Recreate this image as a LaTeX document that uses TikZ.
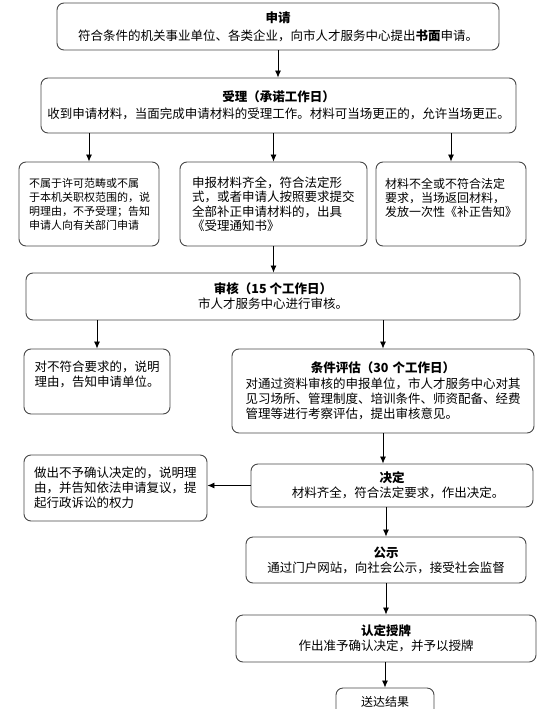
\documentclass[tikz,border=0pt]{standalone}
\usepackage{fontspec}
\setmainfont{Noto Sans CJK SC}
\usetikzlibrary{arrows.meta}
\begin{document}
\begin{tikzpicture}[x=1pt,y=-1pt,
  box/.style={draw=black!72, line width=0.9pt, rounded corners=7pt, inner ysep=2pt,
              font=\fontsize{12.5}{15}\selectfont},
  cbox/.style={box, align=center},
  lbox/.style={box, align=left},
  arr/.style={-{Latex[length=7pt,width=6pt]}, line width=0.8pt, black}]
\useasboundingbox (0,0) rectangle (554,709);
\begin{scope}
\clip (0,0) rectangle (554,709);
\node[cbox, minimum width=442, minimum height=47] (apply) at (278,26.5)
  {\textbf{申请}\\[3pt]符合条件的机关事业单位、各类企业，向市人才服务中心提出\textbf{书面}申请。};
\node[cbox, minimum width=475, minimum height=55] (accept) at (278.5,105.5)
  {\textbf{受理（承诺工作日）}\\[2pt]收到申请材料，当面完成申请材料的受理工作。材料可当场更正的，允许当场更正。};
\node[lbox, font=\fontsize{11}{14}\selectfont, text width=120, inner xsep=10, minimum height=84] (left3) at (89,204)
  {不属于许可范畴或不属\\于本机关职权范围的，说\\明理由，不予受理；告知\\申请人向有关部门申请};
\node[lbox, font=\fontsize{12.5}{14.5}\selectfont, text width=163, inner xsep=12, minimum height=84] (mid3) at (273.5,204)
  {申报材料齐全，符合法定形\\式，或者申请人按照要求提交\\全部补正申请材料的，出具\\《受理通知书》};
\node[lbox, font=\fontsize{12}{14}\selectfont, text width=132, inner xsep=9, minimum height=84] (right3) at (451,204)
  {材料不全或不符合法定\\要求，当场返回材料，\\发放一次性《补正告知》\\\mbox{}};
\node[cbox, minimum width=494, minimum height=47] (review) at (273,296.5)
  {\textbf{审核（15 个工作日）}\\市人才服务中心进行审核。};
\node[lbox, text width=125, inner xsep=10.5, minimum height=65, font=\fontsize{12.5}{15.5}\selectfont] (reject1) at (97,381.5)
  {对不符合要求的，说明\\理由，告知申请单位。\\\mbox{}};
\node[lbox, text width=275, inner xsep=13.5, minimum height=84] (eval) at (383,391)
  {\makebox[275pt][c]{\bfseries 条件评估（30 个工作日）}\\[1pt]对通过资料审核的申报单位，市人才服务中心对其\\见习场所、管理制度、培训条件、师资配备、经费\\管理等进行考察评估，提出审核意见。};
\node[cbox, minimum width=282, minimum height=43] (decide) at (392,485.5)
  {\textbf{决定}\\\hspace*{12pt}材料齐全，符合法定要求，作出决定。};
\node[lbox, text width=163, inner xsep=10, minimum height=66] (reject2) at (115.5,488)
  {做出不予确认决定的，说明理\\由，并告知依法申请复议，提\\起行政诉讼的权力};
\node[cbox, minimum width=280, minimum height=46] (publicize) at (386,560)
  {\textbf{公示}\\通过门户网站，向社会公示，接受社会监督};
\node[cbox, minimum width=300, minimum height=47] (award) at (386,638.5)
  {\textbf{认定授牌}\\作出准予确认决定，并予以授牌};
\node[cbox, minimum width=98, minimum height=28, font=\fontsize{12}{14}\selectfont] (deliver) at (385,702)
  {送达结果};
\end{scope}
\draw[arr] (apply.south) -- (apply.south |- accept.north);
\draw[arr] (accept.south -| left3.north) -- (left3.north);
\draw[arr] (accept.south -| mid3.north) -- (mid3.north);
\draw[arr] (accept.south -| right3.north) -- (right3.north);
\draw[arr] (mid3.south) -- (mid3.south |- review.north);
\draw[arr] (review.south -| reject1.north) -- (reject1.north);
\draw[arr] (review.south -| eval.north) -- (eval.north);
\draw[arr] (eval.south) -- (eval.south |- decide.north);
\draw[arr] (decide.west) -- (decide.west -| reject2.east);
\draw[arr] (publicize.north |- decide.south) -- (publicize.north);
\draw[arr] (publicize.south) -- (publicize.south |- award.north);
\draw[arr] (deliver.north |- award.south) -- (deliver.north);
\end{tikzpicture}
\end{document}
